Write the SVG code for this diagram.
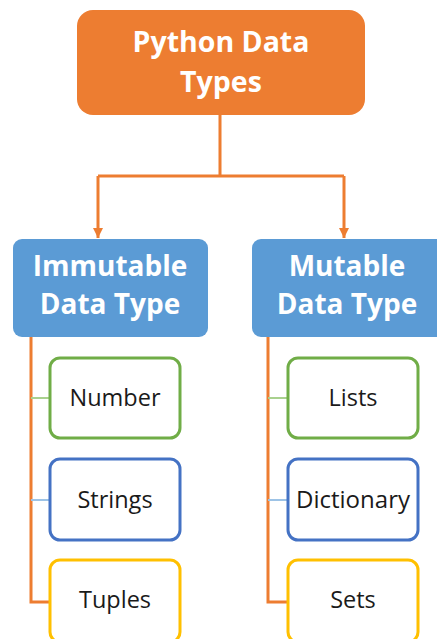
<svg xmlns="http://www.w3.org/2000/svg" width="437" height="639" viewBox="0 0 437 639">
  <defs>
    <marker id="arrow" viewBox="0 0 10 10" refX="10" refY="5" markerWidth="10" markerHeight="10" markerUnits="userSpaceOnUse" orient="auto">
      <path d="M0,0 L10,5 L0,10 Z" fill="#ED7D31"/>
    </marker>
  </defs>
  <style>
    .root { fill: #ED7D31; }
    .cat { fill: #5B9BD5; }
    .head { fill: #fff; font-family: "Open Sans", "Noto Sans", sans-serif; font-weight: bold; text-anchor: middle; }
    .leaf { fill: #fff; stroke-width: 3; }
    .green { stroke: #70AD47; }
    .blue { stroke: #4472C4; }
    .gold { stroke: #FFC000; }
    .label { fill: #1a1a1a; font-family: "Open Sans", "Noto Sans", sans-serif; font-size: 23.5px; text-anchor: middle; }
    .trunk { fill: none; stroke: #ED7D31; stroke-width: 3; }
    .tick { fill: none; stroke-width: 2; }
  </style>

  <!-- connectors -->
  <g id="connectors">
    <path class="trunk" d="M220,115 V176 M98,176 H344" />
    <path class="trunk" d="M98,176 V238" marker-end="url(#arrow)" />
    <path class="trunk" d="M344,176 V238" marker-end="url(#arrow)" />
    <path class="trunk" d="M31,337 V602 H50" />
    <path class="trunk" d="M268,337 V602 H288" />
    <path class="tick" stroke="#A9D18E" d="M31,398 H50 M268,398 H288" />
    <path class="tick" stroke="#9DC3E6" d="M31,500 H50 M268,500 H288" />
  </g>

  <!-- top node -->
  <g id="python-data-types">
    <rect class="root" x="77" y="10" width="288" height="105" rx="16" />
    <text class="head" x="221" y="52" font-size="28.5">Python Data</text>
    <text class="head" x="221" y="92" font-size="28.5">Types</text>
  </g>

  <!-- categories -->
  <g id="immutable">
    <rect class="cat" x="13" y="239" width="195" height="98" rx="9" />
    <text class="head" x="110" y="276" font-size="28">Immutable</text>
    <text class="head" x="110" y="314" font-size="28">Data Type</text>
  </g>
  <g id="mutable">
    <rect class="cat" x="252" y="239" width="195" height="98" rx="9" />
    <text class="head" x="347" y="276" font-size="28">Mutable</text>
    <text class="head" x="347" y="314" font-size="28">Data Type</text>
  </g>

  <!-- immutable leaves -->
  <g id="number">
    <rect class="leaf green" x="50" y="358" width="130" height="80" rx="10" />
    <text class="label" x="115" y="406">Number</text>
  </g>
  <g id="strings">
    <rect class="leaf blue" x="50" y="459" width="130" height="81" rx="10" />
    <text class="label" x="115" y="508">Strings</text>
  </g>
  <g id="tuples">
    <rect class="leaf gold" x="50" y="560" width="130" height="82" rx="10" />
    <text class="label" x="115" y="608">Tuples</text>
  </g>

  <!-- mutable leaves -->
  <g id="lists">
    <rect class="leaf green" x="288" y="358" width="130" height="80" rx="10" />
    <text class="label" x="353" y="406">Lists</text>
  </g>
  <g id="dictionary">
    <rect class="leaf blue" x="288" y="459" width="130" height="81" rx="10" />
    <text class="label" x="353" y="508" textLength="114" lengthAdjust="spacingAndGlyphs">Dictionary</text>
  </g>
  <g id="sets">
    <rect class="leaf gold" x="288" y="560" width="130" height="82" rx="10" />
    <text class="label" x="353" y="608">Sets</text>
  </g>
</svg>
